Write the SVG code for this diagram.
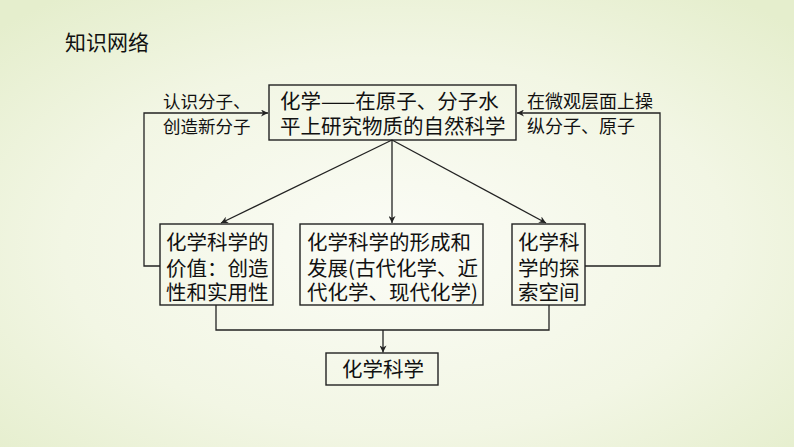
<svg xmlns="http://www.w3.org/2000/svg" width="794" height="447" viewBox="0 0 794 447">
<defs>
<radialGradient id="bg" cx="0.5" cy="0.55" r="0.7">
<stop offset="0" stop-color="#fbfcf6"/>
<stop offset="0.6" stop-color="#f2f6e4"/>
<stop offset="1" stop-color="#e5eecd"/>
</radialGradient>
<marker id="ah" viewBox="0 0 10 10" refX="10" refY="5" markerWidth="9" markerHeight="7" markerUnits="userSpaceOnUse" orient="auto">
<path d="M0,0 L10,5 L0,10 L3,5 Z" fill="#222"/>
</marker>
</defs>
<style>
.box{fill:none;stroke:#222;stroke-width:1.4}
.t{font-family:"Noto Sans CJK SC","Liberation Sans",sans-serif;fill:#111;font-size:20.5px}
.s{font-family:"Noto Sans CJK SC","Liberation Sans",sans-serif;fill:#111}
.c{fill:none;stroke:#222;stroke-width:1.3}
</style>
<rect width="794" height="447" fill="url(#bg)"/>
<text class="s" x="65" y="49.5" font-size="21">知识网络</text>

<g id="top">
<rect class="box" x="269" y="85" width="247" height="55"/>
<text class="t"><tspan x="280" y="109">化学——在原子、分子水</tspan><tspan x="280" y="134">平上研究物质的自然科学</tspan></text>
</g>
<g id="labelLeft">
<text class="s" font-size="17.5"><tspan x="163" y="108">认识分子、</tspan><tspan x="163" y="133">创造新分子</tspan></text>
</g>
<g id="labelRight">
<text class="s" font-size="18"><tspan x="527" y="108">在微观层面上操</tspan><tspan x="527" y="133">纵分子、原子</tspan></text>
</g>
<g id="value">
<rect class="box" x="160" y="224" width="113" height="81"/>
<text class="t"><tspan x="166" y="250">化学科学的</tspan><tspan x="166" y="275.5">价值：创造</tspan><tspan x="166" y="300">性和实用性</tspan></text>
</g>
<g id="history">
<rect class="box" x="300" y="224" width="183" height="81"/>
<text class="t"><tspan x="307" y="250">化学科学的形成和</tspan><tspan x="307" y="275.5">发展(古代化学、近</tspan><tspan x="307" y="300">代化学、现代化学)</tspan></text>
</g>
<g id="space">
<rect class="box" x="512" y="224" width="73" height="81"/>
<text class="t"><tspan x="518" y="250">化学科</tspan><tspan x="518" y="275.5">学的探</tspan><tspan x="518" y="300">索空间</tspan></text>
</g>
<g id="bottom">
<rect class="box" x="326" y="353" width="112" height="32"/>
<text class="t" x="342" y="377">化学科学</text>
</g>
<g id="connectors">
<path class="c" d="M160,266 H144 V113 H268" marker-end="url(#ah)"/>
<path class="c" d="M585,266 H660 V113 H517" marker-end="url(#ah)"/>
<path class="c" d="M392,140 L221,223" marker-end="url(#ah)"/>
<path class="c" d="M392,140 V223" marker-end="url(#ah)"/>
<path class="c" d="M392,140 L546,223" marker-end="url(#ah)"/>
<path class="c" d="M216,305 V330 H549 V305"/>
<path class="c" d="M383,330 V352.5" marker-end="url(#ah)"/>
</g>
</svg>
